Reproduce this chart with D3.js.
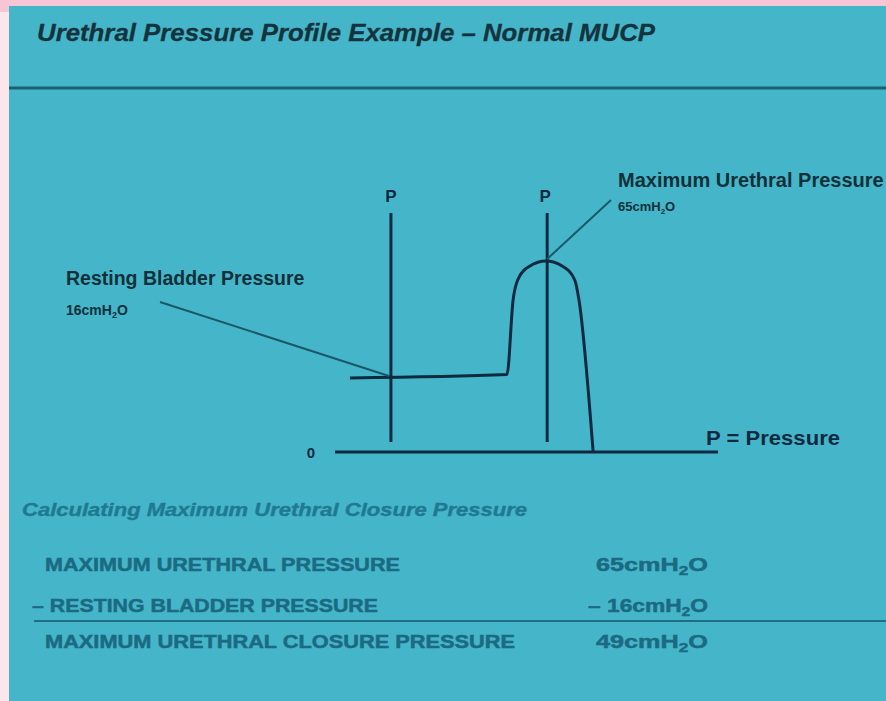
<!DOCTYPE html>
<html>
<head>
<meta charset="utf-8">
<script src="https://cdn.jsdelivr.net/npm/d3@7"></script>
<style>
  html, body { margin: 0; padding: 0; background: #fbe3ea; }
  svg { display: block; }
  text { font-family: "Liberation Sans", Arial, Helvetica, sans-serif; }
</style>
</head>
<body>
<script>
// ---------------- data ----------------
const titleText = "Urethral Pressure Profile Example \u2013 Normal MUCP";
const subTitleText = "Calculating Maximum Urethral Closure Pressure";

// schematic profile: position along urethra (arbitrary units 0-100) and pressure (cmH2O)
const profilePosition = [3.9, 44.9, 46.5, 47.7, 50.8, 55.1, 59.4, 62.6, 63.7, 67.4];
const profilePressure = [15.6, 16.6, 48.4, 56.9, 62.8, 65, 62.8, 56.9, 48.4, 0];

// pressure measurement lines ("P")
const pLinePositions = [14.6, 55.4];
const pLineLabels = ["P", "P"];

const restingPressure = 16;
const maxUrethralPressure = 65;

const annotationTitles = ["Resting Bladder Pressure", "Maximum Urethral Pressure"];
const annotationValues = [restingPressure, maxUrethralPressure];

// calculation table
const rowLabels = ["MAXIMUM URETHRAL PRESSURE", "\u2013 RESTING BLADDER PRESSURE", "MAXIMUM URETHRAL CLOSURE PRESSURE"];
const rowPrefixes = ["", "\u2013 ", ""];
const rowValues = [65, 16, 49];

// ---------------- drawing ----------------
const W = 886, H = 701;
const svg = d3.select("body").append("svg").attr("width", W).attr("height", H);

// background
svg.append("rect").attr("width", W).attr("height", H).attr("fill", "#fce6ec");
svg.append("rect").attr("width", W).attr("height", 12).attr("fill", "#f7c6d4");

// teal panel
const panelX = 9, panelY = 6;
svg.append("rect").attr("x", panelX).attr("y", panelY).attr("width", W - panelX).attr("height", H - panelY)
  .attr("fill", "#45b6c9");

// title
svg.append("text").attr("x", 37).attr("y", 41)
  .attr("font-size", 24).attr("font-style", "italic").attr("font-weight", "bold")
  .attr("fill", "#15333d").attr("stroke", "#15333d").attr("stroke-width", 0.3)
  .attr("textLength", 618).attr("lengthAdjust", "spacingAndGlyphs")
  .text(titleText);

// separator
svg.append("line").attr("x1", panelX).attr("x2", W).attr("y1", 88).attr("y2", 88)
  .attr("stroke", "#1b5f70").attr("stroke-width", 3);

// scales
const x = d3.scaleLinear().domain([0, 100]).range([335, 718]);
const y = d3.scaleLinear().domain([0, restingPressure, maxUrethralPressure]).range([452, 376, 261]);

const ink = "#0f2a40";

// baseline
svg.append("line").attr("x1", x(0)).attr("x2", x(100)).attr("y1", y(0)).attr("y2", y(0))
  .attr("stroke", ink).attr("stroke-width", 3);
svg.append("text").attr("x", x(0) - 24).attr("y", y(0) + 6)
  .attr("font-size", 15).attr("font-weight", "bold").attr("fill", ink).attr("text-anchor", "middle")
  .text("0");

// P lines
const pTop = 213;
svg.selectAll("line.pline").data(pLinePositions).join("line").attr("class", "pline")
  .attr("x1", d => x(d)).attr("x2", d => x(d))
  .attr("y1", pTop).attr("y2", y(0) - 10)
  .attr("stroke", ink).attr("stroke-width", 3);
svg.selectAll("text.plabel").data(pLineLabels).join("text").attr("class", "plabel")
  .attr("x", (d, i) => x(pLinePositions[i]) - (i === 1 ? 2 : 0)).attr("y", 202)
  .attr("text-anchor", "middle").attr("font-size", 17).attr("font-weight", "bold").attr("fill", ink)
  .text(d => d);

// profile curve
const profile = profilePosition.map((p, i) => ({ p, v: profilePressure[i] }));
const line = d3.line().x(d => x(d.p)).y(d => y(d.v)).curve(d3.curveMonotoneX);
svg.append("path").datum(profile).attr("d", line)
  .attr("fill", "none").attr("stroke", ink).attr("stroke-width", 3).attr("stroke-linejoin", "round");

// "P = Pressure"
svg.append("text").attr("x", 706).attr("y", 445)
  .attr("font-size", 20).attr("font-weight", "bold").attr("fill", ink)
  .attr("textLength", 134).attr("lengthAdjust", "spacingAndGlyphs")
  .text("P = Pressure");

// helper for cmH2O text
function cmH2O(sel, prefix, value, subSize, shift) {
  sel.append("tspan").text(prefix + value + "cmH");
  sel.append("tspan").attr("font-size", subSize).attr("dy", shift).text("2");
  sel.append("tspan").attr("dy", -shift).text("O");
}

// annotations
const leaderColor = "#1a5868";
const annColor = "#13303a";
// resting
svg.append("text").attr("x", 66).attr("y", 285)
  .attr("font-size", 19.5).attr("font-weight", "bold").attr("fill", annColor)
  .text(annotationTitles[0]);
svg.append("text").attr("x", 66).attr("y", 315)
  .attr("font-size", 14).attr("font-weight", "bold").attr("fill", annColor)
  .call(cmH2O, "", annotationValues[0], 9, 3);
svg.append("line").attr("x1", 160).attr("y1", 302)
  .attr("x2", x(pLinePositions[0]) - 2).attr("y2", y(restingPressure))
  .attr("stroke", leaderColor).attr("stroke-width", 2);
// maximum
svg.append("text").attr("x", 618).attr("y", 187)
  .attr("font-size", 20).attr("font-weight", "bold").attr("fill", annColor)
  .text(annotationTitles[1]);
svg.append("text").attr("x", 618).attr("y", 211)
  .attr("font-size", 13).attr("font-weight", "bold").attr("fill", annColor)
  .call(cmH2O, "", annotationValues[1], 8, 3);
svg.append("line").attr("x1", x(pLinePositions[1])).attr("y1", y(maxUrethralPressure) - 2)
  .attr("x2", 611).attr("y2", 200)
  .attr("stroke", leaderColor).attr("stroke-width", 2);

// ---------------- calculation section ----------------
svg.append("text").attr("x", 22).attr("y", 516)
  .attr("font-size", 18).attr("font-style", "italic").attr("font-weight", "bold")
  .attr("fill", "#1f7a91").attr("stroke", "#1f7a91").attr("stroke-width", 0.4)
  .attr("textLength", 505).attr("lengthAdjust", "spacingAndGlyphs")
  .text(subTitleText);

const rowY = [571, 612, 648];
const rowX = [45, 32, 45];
const rowW = [355, 346, 470];
const valW = [112, 120, 112];
const tableColor = "#1c6a82";
svg.selectAll("text.rowlabel").data(rowLabels).join("text").attr("class", "rowlabel")
  .attr("x", (d, i) => rowX[i]).attr("y", (d, i) => rowY[i])
  .attr("font-size", 19).attr("font-weight", "bold").attr("fill", tableColor)
  .attr("stroke", tableColor).attr("stroke-width", 0.5)
  .attr("textLength", (d, i) => rowW[i]).attr("lengthAdjust", "spacingAndGlyphs")
  .text(d => d);

rowValues.forEach((v, i) => {
  svg.append("text").attr("x", 708 - valW[i]).attr("y", rowY[i])
    .attr("font-size", 19).attr("font-weight", "bold").attr("fill", tableColor)
    .attr("stroke", tableColor).attr("stroke-width", 0.5)
    .attr("textLength", valW[i]).attr("lengthAdjust", "spacingAndGlyphs")
    .call(cmH2O, rowPrefixes[i], v, 13, 4);
});

svg.append("line").attr("x1", 34).attr("x2", W).attr("y1", 621).attr("y2", 621)
  .attr("stroke", "#1f6e82").attr("stroke-width", 2);
</script>
</body>
</html>
